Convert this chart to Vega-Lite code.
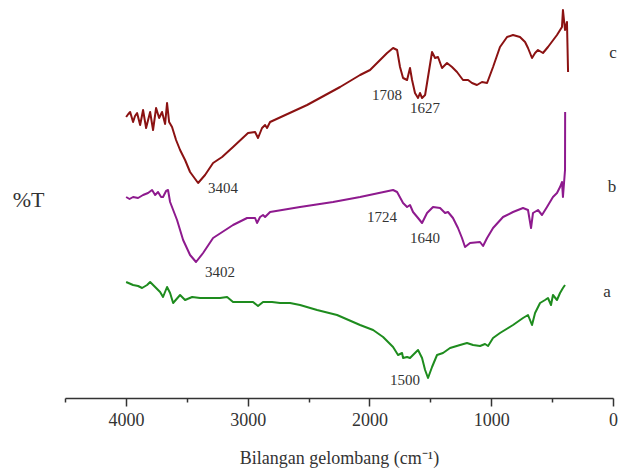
{
  "$schema": "https://vega.github.io/schema/vega-lite/v6.json",
  "width": 548,
  "height": 398,
  "autosize": {"type": "none"},
  "padding": {"left": 65, "top": 0, "right": 11, "bottom": 73},
  "background": "white",
  "config": {"view": {"stroke": null}},
  "layer": [
    {
      "data": {"values": [
        {"s":"c","x":3998,"y":281},{"s":"c","x":3980,"y":284},{"s":"c","x":3965,"y":286},{"s":"c","x":3941,"y":276},{"s":"c","x":3925,"y":282},{"s":"c","x":3908,"y":285},{"s":"c","x":3883,"y":273},{"s":"c","x":3870,"y":281},{"s":"c","x":3859,"y":288},{"s":"c","x":3834,"y":270},{"s":"c","x":3801,"y":286},{"s":"c","x":3777,"y":268},{"s":"c","x":3752,"y":290},{"s":"c","x":3727,"y":280},{"s":"c","x":3703,"y":286},{"s":"c","x":3678,"y":274},{"s":"c","x":3662,"y":295},{"s":"c","x":3645,"y":276},{"s":"c","x":3621,"y":271},{"s":"c","x":3588,"y":258},{"s":"c","x":3555,"y":248},{"s":"c","x":3514,"y":238},{"s":"c","x":3473,"y":226},{"s":"c","x":3407,"y":215},{"s":"c","x":3350,"y":223},{"s":"c","x":3284,"y":235},{"s":"c","x":3210,"y":241},{"s":"c","x":3120,"y":251},{"s":"c","x":2997,"y":265},{"s":"c","x":2939,"y":266},{"s":"c","x":2915,"y":260},{"s":"c","x":2882,"y":270},{"s":"c","x":2857,"y":273},{"s":"c","x":2841,"y":270},{"s":"c","x":2816,"y":276},{"s":"c","x":2512,"y":293},{"s":"c","x":2241,"y":311},{"s":"c","x":2077,"y":323},{"s":"c","x":1995,"y":328},{"s":"c","x":1855,"y":345},{"s":"c","x":1806,"y":350},{"s":"c","x":1773,"y":348},{"s":"c","x":1749,"y":331},{"s":"c","x":1724,"y":320},{"s":"c","x":1691,"y":318},{"s":"c","x":1667,"y":330},{"s":"c","x":1650,"y":318},{"s":"c","x":1626,"y":305},{"s":"c","x":1601,"y":300},{"s":"c","x":1585,"y":305},{"s":"c","x":1568,"y":300},{"s":"c","x":1543,"y":303},{"s":"c","x":1527,"y":315},{"s":"c","x":1486,"y":346},{"s":"c","x":1461,"y":340},{"s":"c","x":1437,"y":341},{"s":"c","x":1404,"y":330},{"s":"c","x":1363,"y":335},{"s":"c","x":1322,"y":331},{"s":"c","x":1281,"y":326},{"s":"c","x":1232,"y":318},{"s":"c","x":1190,"y":318},{"s":"c","x":1158,"y":315},{"s":"c","x":1117,"y":313},{"s":"c","x":1076,"y":316},{"s":"c","x":1034,"y":315},{"s":"c","x":985,"y":331},{"s":"c","x":928,"y":351},{"s":"c","x":870,"y":361},{"s":"c","x":821,"y":363},{"s":"c","x":764,"y":361},{"s":"c","x":722,"y":356},{"s":"c","x":698,"y":350},{"s":"c","x":665,"y":340},{"s":"c","x":640,"y":345},{"s":"c","x":616,"y":348},{"s":"c","x":575,"y":345},{"s":"c","x":534,"y":351},{"s":"c","x":460,"y":363},{"s":"c","x":419,"y":371},{"s":"c","x":411,"y":388},{"s":"c","x":394,"y":368},{"s":"c","x":378,"y":376},{"s":"c","x":369,"y":326},
        {"s":"b","x":3998,"y":201},{"s":"b","x":3970,"y":199},{"s":"b","x":3941,"y":201},{"s":"b","x":3900,"y":200},{"s":"b","x":3859,"y":203},{"s":"b","x":3818,"y":205},{"s":"b","x":3785,"y":208},{"s":"b","x":3760,"y":203},{"s":"b","x":3736,"y":206},{"s":"b","x":3711,"y":201},{"s":"b","x":3695,"y":201},{"s":"b","x":3670,"y":207},{"s":"b","x":3654,"y":208},{"s":"b","x":3637,"y":196},{"s":"b","x":3580,"y":178},{"s":"b","x":3530,"y":158},{"s":"b","x":3473,"y":143},{"s":"b","x":3424,"y":136},{"s":"b","x":3366,"y":145},{"s":"b","x":3284,"y":160},{"s":"b","x":3120,"y":173},{"s":"b","x":3005,"y":180},{"s":"b","x":2939,"y":180},{"s":"b","x":2923,"y":175},{"s":"b","x":2898,"y":181},{"s":"b","x":2874,"y":183},{"s":"b","x":2857,"y":181},{"s":"b","x":2816,"y":186},{"s":"b","x":2570,"y":191},{"s":"b","x":2299,"y":196},{"s":"b","x":2077,"y":201},{"s":"b","x":1806,"y":208},{"s":"b","x":1773,"y":206},{"s":"b","x":1724,"y":195},{"s":"b","x":1691,"y":191},{"s":"b","x":1667,"y":193},{"s":"b","x":1642,"y":186},{"s":"b","x":1601,"y":180},{"s":"b","x":1568,"y":175},{"s":"b","x":1527,"y":185},{"s":"b","x":1478,"y":191},{"s":"b","x":1420,"y":190},{"s":"b","x":1379,"y":185},{"s":"b","x":1355,"y":186},{"s":"b","x":1314,"y":180},{"s":"b","x":1273,"y":170},{"s":"b","x":1240,"y":160},{"s":"b","x":1215,"y":151},{"s":"b","x":1174,"y":155},{"s":"b","x":1092,"y":156},{"s":"b","x":1067,"y":152},{"s":"b","x":1034,"y":160},{"s":"b","x":985,"y":170},{"s":"b","x":903,"y":181},{"s":"b","x":821,"y":186},{"s":"b","x":739,"y":190},{"s":"b","x":698,"y":188},{"s":"b","x":673,"y":170},{"s":"b","x":657,"y":185},{"s":"b","x":616,"y":188},{"s":"b","x":583,"y":183},{"s":"b","x":542,"y":191},{"s":"b","x":493,"y":201},{"s":"b","x":460,"y":205},{"s":"b","x":435,"y":211},{"s":"b","x":419,"y":216},{"s":"b","x":411,"y":201},{"s":"b","x":394,"y":228},{"s":"b","x":393,"y":286},
        {"s":"a","x":3998,"y":116},{"s":"a","x":3941,"y":113},{"s":"a","x":3900,"y":112},{"s":"a","x":3867,"y":110},{"s":"a","x":3826,"y":113},{"s":"a","x":3801,"y":116},{"s":"a","x":3760,"y":111},{"s":"a","x":3719,"y":106},{"s":"a","x":3695,"y":101},{"s":"a","x":3662,"y":111},{"s":"a","x":3637,"y":105},{"s":"a","x":3612,"y":95},{"s":"a","x":3555,"y":103},{"s":"a","x":3514,"y":98},{"s":"a","x":3456,"y":101},{"s":"a","x":3391,"y":100},{"s":"a","x":3309,"y":100},{"s":"a","x":3227,"y":100},{"s":"a","x":3169,"y":101},{"s":"a","x":3120,"y":96},{"s":"a","x":3005,"y":96},{"s":"a","x":2956,"y":96},{"s":"a","x":2915,"y":92},{"s":"a","x":2874,"y":96},{"s":"a","x":2800,"y":96},{"s":"a","x":2734,"y":95},{"s":"a","x":2652,"y":95},{"s":"a","x":2570,"y":93},{"s":"a","x":2430,"y":88},{"s":"a","x":2266,"y":83},{"s":"a","x":2077,"y":73},{"s":"a","x":1970,"y":68},{"s":"a","x":1888,"y":61},{"s":"a","x":1806,"y":51},{"s":"a","x":1765,"y":43},{"s":"a","x":1732,"y":45},{"s":"a","x":1724,"y":40},{"s":"a","x":1691,"y":41},{"s":"a","x":1667,"y":40},{"s":"a","x":1626,"y":45},{"s":"a","x":1601,"y":48},{"s":"a","x":1568,"y":40},{"s":"a","x":1543,"y":28},{"s":"a","x":1519,"y":20},{"s":"a","x":1486,"y":31},{"s":"a","x":1445,"y":43},{"s":"a","x":1396,"y":45},{"s":"a","x":1338,"y":50},{"s":"a","x":1256,"y":53},{"s":"a","x":1199,"y":55},{"s":"a","x":1149,"y":53},{"s":"a","x":1092,"y":52},{"s":"a","x":1051,"y":54},{"s":"a","x":1026,"y":52},{"s":"a","x":985,"y":60},{"s":"a","x":928,"y":65},{"s":"a","x":821,"y":73},{"s":"a","x":739,"y":80},{"s":"a","x":698,"y":83},{"s":"a","x":665,"y":73},{"s":"a","x":640,"y":85},{"s":"a","x":599,"y":95},{"s":"a","x":558,"y":98},{"s":"a","x":534,"y":100},{"s":"a","x":509,"y":93},{"s":"a","x":493,"y":103},{"s":"a","x":460,"y":98},{"s":"a","x":435,"y":105},{"s":"a","x":411,"y":110},{"s":"a","x":394,"y":113}
      ]},
      "mark": {"type": "line", "strokeWidth": 2, "strokeJoin": "round"},
      "encoding": {
        "x": {
          "field": "x", "type": "quantitative",
          "scale": {"domain": [0, 4500], "reverse": true, "nice": false, "zero": false},
          "axis": {
            "title": "Bilangan gelombang (cm⁻¹)",
            "values": [4500, 4000, 3500, 3000, 2500, 2000, 1500, 1000, 500, 0],
            "format": "d",
            "labelExpr": "datum.value % 1000 === 0 && datum.value < 4500 ? datum.label : ''",
            "tickSize": {"condition": {"test": "datum.value % 1000 === 0 && datum.value < 4500", "value": 8}, "value": 4},
            "grid": false,
            "domainColor": "#333333",
            "domainWidth": 1.5,
            "tickColor": "#333333",
            "tickWidth": 1.5,
            "labelFont": "Liberation Serif",
            "labelFontSize": 18,
            "labelColor": "#333333",
            "labelPadding": 5,
            "labelFlush": false,
            "labelOverlap": false,
            "titleFont": "Liberation Serif",
            "titleFontSize": 18,
            "titleFontWeight": "normal",
            "titleColor": "#333333",
            "titlePadding": 20
          }
        },
        "y": {
          "field": "y", "type": "quantitative",
          "scale": {"domain": [0, 398], "nice": false, "zero": false},
          "axis": {
            "domain": false, "ticks": false, "labels": false, "grid": false,
            "title": "%T", "titleAngle": 0, "titleAlign": "right", "titleBaseline": "middle",
            "titlePadding": 21, "titleFont": "Liberation Serif", "titleFontSize": 22,
            "titleFontWeight": "normal", "titleColor": "#333333"
          }
        },
        "color": {
          "field": "s", "type": "nominal", "legend": null,
          "scale": {"domain": ["a", "b", "c"], "range": ["#1e8c1e", "#8e1a8e", "#8b1212"]}
        }
      }
    },
    {
      "data": {"values": [
        {"x":3202,"y":210,"t":"3404","f":15},
        {"x":1855,"y":303,"t":"1708","f":15},
        {"x":1543,"y":290,"t":"1627","f":15},
        {"x":3227,"y":126,"t":"3402","f":15},
        {"x":1897,"y":181,"t":"1724","f":15},
        {"x":1543,"y":160,"t":"1640","f":15},
        {"x":1708,"y":18,"t":"1500","f":15},
        {"x":0,"y":345,"t":"c","f":17},
        {"x":8,"y":211,"t":"b","f":17},
        {"x":49,"y":106,"t":"a","f":17}
      ]},
      "mark": {"type": "text", "font": "Liberation Serif", "color": "#333333", "align": "center", "baseline": "middle", "clip": false},
      "encoding": {
        "x": {"field": "x", "type": "quantitative"},
        "y": {"field": "y", "type": "quantitative"},
        "text": {"field": "t"},
        "size": {"field": "f", "type": "quantitative", "scale": null}
      }
    }
  ]
}
